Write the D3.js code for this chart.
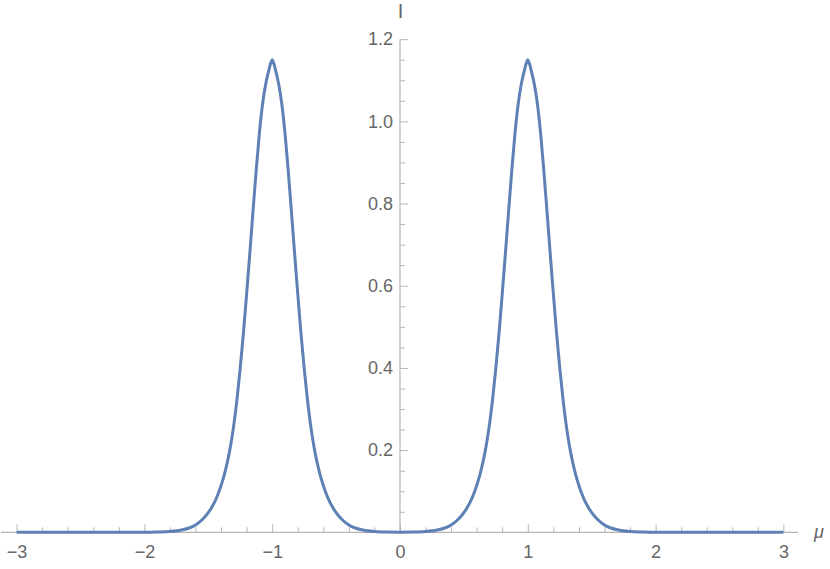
<!DOCTYPE html>
<html>
<head>
<meta charset="utf-8">
<script src="https://cdn.jsdelivr.net/npm/d3@7"></script>
<style>
  html, body { margin: 0; padding: 0; background: #ffffff; }
  svg { display: block; }
  text { font-family: "Liberation Sans", Arial, sans-serif; }
</style>
</head>
<body>
<svg id="chart" width="830" height="569"></svg>
<script>
// ---- data ----
const muValues = [
  -3.0, -2.5, -2.0, -1.9, -1.8, -1.7, -1.65, -1.6, -1.55, -1.5, -1.475, -1.45, -1.425, -1.4,
  -1.375, -1.35, -1.325, -1.3, -1.275, -1.25, -1.225, -1.2, -1.175, -1.15,
  -1.125, -1.1, -1.075, -1.05, -1.025, -1.0,
  -0.975, -0.95, -0.925, -0.9, -0.875, -0.85, -0.825, -0.8, -0.775, -0.75,
  -0.725, -0.7, -0.675, -0.65, -0.625, -0.6, -0.575, -0.55, -0.525, -0.5, -0.45, -0.4, -0.35,
  -0.3, -0.2, -0.1, 0.0,
  0.1, 0.2, 0.3, 0.35, 0.4, 0.45, 0.5, 0.525, 0.55, 0.575, 0.6, 0.625, 0.65, 0.675, 0.7,
  0.725, 0.75, 0.775, 0.8, 0.825, 0.85, 0.875, 0.9, 0.925, 0.95, 0.975, 1.0,
  1.025, 1.05, 1.075, 1.1, 1.125, 1.15, 1.175, 1.2, 1.225, 1.25, 1.275, 1.3,
  1.325, 1.35, 1.375, 1.4, 1.425, 1.45, 1.475, 1.5, 1.55, 1.6, 1.65, 1.7, 1.8, 1.9, 2.0,
  2.5, 3.0
];
const intensity = [
  0, 0, 0, 0.0005, 0.0018, 0.006, 0.0105, 0.018, 0.030, 0.048, 0.060, 0.074, 0.092, 0.114,
  0.140, 0.172, 0.212, 0.262, 0.325, 0.400, 0.485, 0.580, 0.680, 0.782,
  0.882, 0.972, 1.043, 1.092, 1.126, 1.150,
  1.126, 1.092, 1.043, 0.972, 0.882, 0.782, 0.680, 0.580, 0.485, 0.400,
  0.325, 0.262, 0.212, 0.172, 0.140, 0.114, 0.092, 0.074, 0.060, 0.048, 0.030, 0.018, 0.0105,
  0.006, 0.0018, 0.0005, 0.0002,
  0.0005, 0.0018, 0.006, 0.0105, 0.018, 0.030, 0.048, 0.060, 0.074, 0.092, 0.114, 0.140, 0.172, 0.212, 0.262,
  0.325, 0.400, 0.485, 0.580, 0.680, 0.782, 0.882, 0.972, 1.043, 1.092, 1.126, 1.150,
  1.126, 1.092, 1.043, 0.972, 0.882, 0.782, 0.680, 0.580, 0.485, 0.400, 0.325, 0.262,
  0.212, 0.172, 0.140, 0.114, 0.092, 0.074, 0.060, 0.048, 0.030, 0.018, 0.0105, 0.006, 0.0018, 0.0005, 0,
  0, 0
];
const xMajorTicks = [-3, -2, -1, 0, 1, 2, 3];
const yMajorTicks = [0.2, 0.4, 0.6, 0.8, 1.0, 1.2];
const xLabel = "μ";
const yLabel = "I";

// ---- drawing ----
const svg = d3.select("#chart");
const x = d3.scaleLinear().domain([-3, 3]).range([16.6, 783.4]);
const y = d3.scaleLinear().domain([0, 1.2]).range([532.3, 39.2]);

const axisColor = "#b5b5b5";
const labelColor = "#666666";

const xMinor = d3.range(-30, 31, 2).map(v => v / 10).filter(v => !xMajorTicks.includes(v));
const yMinor = d3.range(1, 25).map(v => v * 0.05).filter(v => !yMajorTicks.some(t => Math.abs(t - v) < 1e-9));

// axis lines
svg.append("line").attr("x1", 1).attr("x2", 798).attr("y1", y(0)).attr("y2", y(0))
  .attr("stroke", axisColor).attr("stroke-width", 1.2);
svg.append("line").attr("x1", x(0)).attr("x2", x(0)).attr("y1", y(1.2)).attr("y2", y(0))
  .attr("stroke", axisColor).attr("stroke-width", 1.2);

// x axis minor ticks
svg.append("g").attr("transform", `translate(0,${y(0)})`)
  .call(d3.axisBottom(x).tickValues(xMinor).tickSizeInner(-5).tickSizeOuter(0).tickFormat(""))
  .call(g => g.select(".domain").remove())
  .call(g => g.selectAll("line").attr("stroke", axisColor));

// x axis major ticks + labels
svg.append("g").attr("transform", `translate(0,${y(0)})`)
  .call(d3.axisBottom(x).tickValues(xMajorTicks).tickSizeInner(-8).tickSizeOuter(0).tickPadding(13)
    .tickFormat(d3.format("d")))
  .call(g => g.select(".domain").remove())
  .call(g => g.selectAll("line").attr("stroke", axisColor))
  .call(g => g.selectAll("text").attr("fill", labelColor)
    .style("font-size", "18px").style("font-family", "'Liberation Sans', Arial, sans-serif"));

// y axis minor ticks
svg.append("g").attr("transform", `translate(${x(0)},0)`)
  .call(d3.axisLeft(y).tickValues(yMinor).tickSizeInner(-5).tickSizeOuter(0).tickFormat(""))
  .call(g => g.select(".domain").remove())
  .call(g => g.selectAll("line").attr("stroke", axisColor));

// y axis major ticks + labels
svg.append("g").attr("transform", `translate(${x(0)},0)`)
  .call(d3.axisLeft(y).tickValues(yMajorTicks).tickSizeInner(-8).tickSizeOuter(0).tickPadding(7)
    .tickFormat(d3.format(".1f")))
  .call(g => g.select(".domain").remove())
  .call(g => g.selectAll("line").attr("stroke", axisColor))
  .call(g => g.selectAll("text").attr("fill", labelColor)
    .style("font-size", "18px").style("font-family", "'Liberation Sans', Arial, sans-serif"));

// curve
const pts = muValues.map((m, i) => [m, intensity[i]]);
const line = d3.line().x(d => x(d[0])).y(d => y(d[1])).curve(d3.curveMonotoneX);
svg.append("path").datum(pts).attr("d", line)
  .attr("fill", "none").attr("stroke", "#5E81B5").attr("stroke-width", 3)
  .attr("stroke-linejoin", "round");

// axis labels
svg.append("text").attr("x", x(0) + 0.5).attr("y", 18).attr("text-anchor", "middle")
  .attr("fill", labelColor).style("font-size", "20px").text(yLabel);
svg.append("text").attr("x", 814).attr("y", 538).attr("text-anchor", "start")
  .attr("fill", labelColor).style("font-size", "18px").style("font-style", "italic").text(xLabel);
</script>
</body>
</html>
